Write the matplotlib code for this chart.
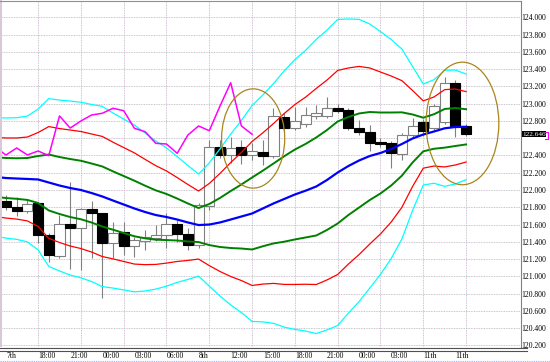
import numpy as np
import matplotlib
matplotlib.use("Agg")
import matplotlib.pyplot as plt
import matplotlib.transforms as mtransforms
from matplotlib.patches import Ellipse, Rectangle
from matplotlib.lines import Line2D

plt.rcParams['font.family'] = ['Liberation Serif', 'DejaVu Serif']

# hourly candles, 7th -> 11th
opens = [121.876, 121.807, 121.757, 121.846, 121.479, 121.235, 121.603, 121.556, 121.780, 121.730,
         121.389, 121.510, 121.351, 121.413, 121.440, 121.479, 121.603, 121.487, 121.363, 121.815,
         122.495, 122.406, 122.495, 122.406, 122.437, 122.398, 122.849, 122.722, 122.761, 122.858,
         122.858, 122.954, 122.927, 122.715, 122.676, 122.560, 122.541, 122.417, 122.637, 122.792,
         122.722, 122.792, 123.243, 122.745]
highs = [121.942, 121.922, 121.884, 121.853, 121.502, 121.710, 122.093, 121.792, 121.873, 121.734,
         121.629, 121.629, 121.456, 121.537, 121.594, 121.734, 121.652, 121.560, 121.849, 122.579,
         122.579, 122.614, 122.579, 122.545, 122.579, 122.950, 122.892, 122.962, 122.962, 122.985,
         123.078, 122.997, 122.950, 122.811, 122.753, 122.603, 122.568, 122.661, 122.834, 122.823,
         122.997, 123.313, 123.275, 122.765]
lows = [121.768, 121.699, 121.734, 121.389, 121.166, 121.212, 121.085, 121.073, 121.212, 120.749,
        121.212, 121.247, 121.224, 121.305, 121.409, 121.328, 121.398, 121.305, 121.328, 121.768,
        122.371, 122.313, 122.301, 122.348, 122.290, 122.371, 122.672, 122.695, 122.730, 122.823,
        122.834, 122.892, 122.695, 122.637, 122.452, 122.498, 122.255, 122.348, 122.614, 122.626,
        122.695, 122.765, 122.618, 122.626]
closes = [121.800, 121.760, 121.838, 121.479, 121.247, 121.606, 121.563, 121.783, 121.730, 121.389,
          121.505, 121.351, 121.421, 121.459, 121.479, 121.603, 121.487, 121.363, 121.826, 122.495,
          122.406, 122.487, 122.406, 122.452, 122.398, 122.858, 122.718, 122.800, 122.869, 122.889,
          122.947, 122.919, 122.715, 122.676, 122.541, 122.533, 122.425, 122.637, 122.742, 122.687,
          122.973, 123.243, 122.742, 122.646]

# bollinger middle line and sigma, from one bar before the first candle
band_start = -1
mid = [122.151, 122.139, 122.133, 122.128, 122.122, 122.087, 122.052, 122.023, 122.000, 121.965,
       121.925, 121.878, 121.832, 121.786, 121.745, 121.710, 121.687, 121.658, 121.624, 121.594,
       121.600, 121.624, 121.658, 121.693, 121.728, 121.786, 121.844, 121.896, 121.948, 121.992,
       122.041, 122.116, 122.203, 122.278, 122.342, 122.394, 122.429, 122.475, 122.533, 122.597,
       122.643, 122.678, 122.715, 122.730, 122.732]
sigma = [0.229, 0.232, 0.235, 0.243, 0.272, 0.324, 0.330, 0.336, 0.339, 0.342,
         0.348, 0.338, 0.330, 0.322, 0.305, 0.286, 0.267, 0.243, 0.220, 0.197,
         0.238, 0.284, 0.330, 0.371, 0.417, 0.438, 0.463, 0.495, 0.521, 0.542,
         0.568, 0.579, 0.591, 0.568, 0.545, 0.510, 0.469, 0.423, 0.367, 0.278,
         0.195, 0.200, 0.224, 0.220, 0.204]
lag = 20  # lagging close line

tick_pos = [0, 3, 6, 9, 12, 15, 18, 21, 24, 27, 30, 33, 36, 39, 42]
tick_lbl = ['7th', '18:00', '21:00', '00:00', '03:00', '06:00', '8th', '12:00', '15:00',
            '18:00', '21:00', '00:00', '03:00', '11th', '11th']
price_ticks = [120.2, 120.4, 120.6, 120.8, 121.0, 121.2, 121.4, 121.6, 121.8, 122.0,
               122.2, 122.4, 122.6, 122.8, 123.0, 123.2, 123.4, 123.6, 123.8, 124.0]
vgrid_pos = [3, 7, 11, 15, 19, 23, 27, 31, 35, 39, 43]

# (candle centre, price centre, width in bars, height in price)
circles = [(23.1, 122.597, 5.9, 1.15), (42.66, 122.771, 6.8, 1.42)]

W, H = 550, 362
fig = plt.figure(figsize=(W / 100, H / 100), dpi=100)
ax = fig.add_axes([2 / W, 15 / H, 518 / W, 346 / H])
ax.set_xlim(-0.374, 48.04)
ax.set_ylim(120.181, 124.19)
for s in ax.spines.values():
    s.set_visible(False)

# dotted two-colour grid
for p in price_ticks:
    ax.axhline(p, color='#e8a0c8', lw=0.6, ls=(0, (1, 3)), zorder=1)
    ax.axhline(p, color='#90c0b8', lw=0.6, ls=(2, (1, 3)), zorder=1)
for g in vgrid_pos:
    ax.axvline(g, color='#e8a0c8', lw=0.6, ls=(0, (1, 3)), zorder=1)
    ax.axvline(g, color='#90c0b8', lw=0.6, ls=(2, (1, 3)), zorder=1)

# candles
o = np.array(opens)
c = np.array(closes)
x = np.arange(len(o))
up = c >= o
ax.vlines(x, lows, highs, color='#808080', lw=0.8, zorder=2)
bot = np.minimum(o, c)
hgt = np.abs(c - o)
ax.bar(x[up], hgt[up], bottom=bot[up], width=0.94, color='white', edgecolor='#808080', lw=0.8, zorder=3)
ax.bar(x[~up], hgt[~up], bottom=bot[~up], width=0.94, color='black', edgecolor='black', lw=0.8, zorder=3)

# bands
bx = np.arange(band_start, band_start + len(mid))
m = np.array(mid)
sd = np.array(sigma)
for k, col, lw in [(3, '#00ffff', 0.9), (2, '#ff0000', 0.9), (1, '#008000', 1.4)]:
    ax.plot(bx, m + k * sd, color=col, lw=lw, zorder=4)
    ax.plot(bx, m - k * sd, color=col, lw=lw, zorder=4)
ax.plot(bx, m, color='#0000ff', lw=1.6, zorder=5)

# lagging line
lx = np.arange(-1, len(c) - lag)
ax.plot(lx, c[lag - 1:], color='#ff00ff', lw=1.1, zorder=6)

for cx, cy, ew, eh in circles:
    ax.add_patch(Ellipse((cx, cy), ew, eh, fill=False, edgecolor='#a8861c', lw=0.9, zorder=7))

last = c[-1]
ax.yaxis.tick_right()
# the 122.600 label sits under the current price box
ax.set_yticks(price_ticks, ['' if abs(p - last) < 0.1 else f'{p:.3f}' for p in price_ticks])
ax.tick_params(axis='y', length=0, pad=1, labelsize=5.5, labelcolor='black')
ax.set_xticks(tick_pos, tick_lbl)
ax.tick_params(axis='x', length=0, pad=3.5, labelsize=5.5, labelcolor='black')
for t in ax.get_xticklabels():
    t.set_ha('left')

# current price box
tr = mtransforms.blended_transform_factory(ax.transAxes, ax.transData)
ax.text(1 + 2 / 518, last, f'{last:.3f}', transform=tr, ha='left', va='center',
        fontsize=5.2, color='white', zorder=10, clip_on=False,
        bbox=dict(boxstyle='square,pad=0.1', fc='black', ec='none'))


def fx(px):
    return px / W


def fy(py):
    return 1 - py / H


fig.add_artist(Line2D([fx(545), fx(547.5), fx(547.5), fx(545)],
                      [fy(131.5), fy(131.5), fy(138.5), fy(138.5)], color='#ff00ff', lw=0.8))

# frame
fig.add_artist(Rectangle((0, fy(347)), fx(2), fy(0) - fy(347), color='#d8c8d8', lw=0))
fig.add_artist(Line2D([0, fx(520.5)], [fy(1), fy(1)], color='#909090', lw=0.8))
fig.add_artist(Line2D([fx(520.5), fx(520.5)], [fy(1), fy(347)], color='#808080', lw=0.8))
fig.add_artist(Line2D([0, fx(527)], [fy(347.5), fy(347.5)], color='#505050', lw=0.8))
fig.add_artist(Line2D([0, fx(527)], [fy(350.5), fy(350.5)], color='#505050', lw=0.8))
fig.add_artist(Line2D([0, 1], [fy(361), fy(361)], color='#9aaee0', lw=0.8, ls=(0, (1, 1))))

fig.savefig('out.png', dpi=100)
